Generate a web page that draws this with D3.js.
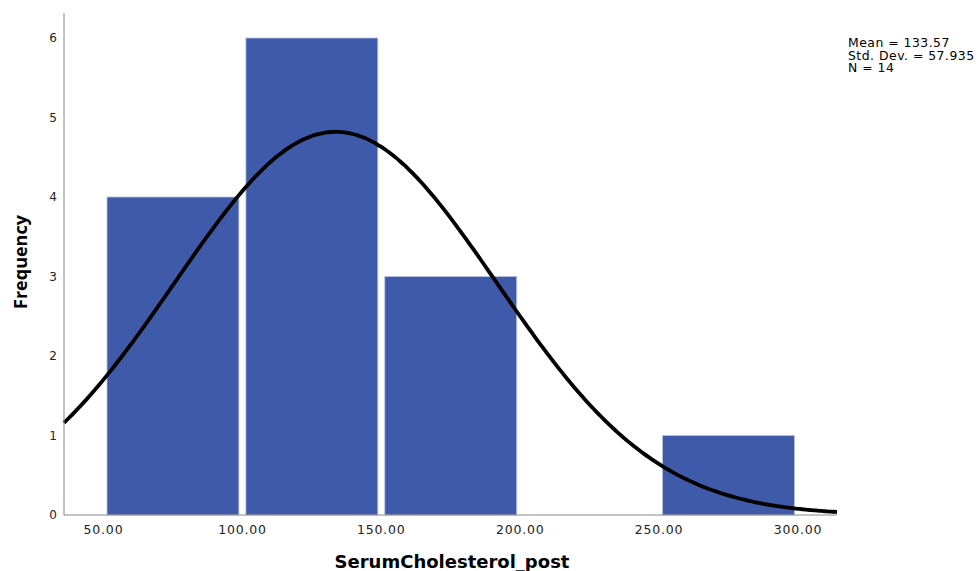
<!DOCTYPE html>
<html lang="en">
<head>
<meta charset="utf-8">
<title>SerumCholesterol_post histogram</title>
<script src="https://cdn.jsdelivr.net/npm/d3@7"></script>
<style>
body { margin: 0; background: #fff; }
</style>
</head>
<body>
<script>
// histogram bins (lower, upper) and counts
var binLow = [50, 100, 150, 250];
var binHigh = [100, 150, 200, 300];
var counts = [4, 6, 3, 1];
var xTicks = [50, 100, 150, 200, 250, 300];
var yTicks = [0, 1, 2, 3, 4, 5, 6];
var stats = ["Mean = 133.57", "Std. Dev. = 57.935", "N = 14"];
var mean = 133.57, sd = 57.935, n = 14, binWidth = 50;

var W = 980, H = 571;
var axisLeft = 64, axisRight = 837, base = 515, axisTop = 13;

var svg = d3.select("body").append("svg")
  .attr("width", W).attr("height", H);

var x = d3.scaleLinear().domain([50, 300]).range([103.5, 798]);
var y = d3.scaleLinear().domain([0, 6]).range([base, 38]);

var bars = binLow.map(function(d, i) { return {lo: d, hi: binHigh[i], c: counts[i]}; });

svg.append("g").selectAll("rect")
  .data(bars)
  .enter().append("rect")
  .attr("x", d => x(d.lo) + 3.5)
  .attr("width", d => x(d.hi) - x(d.lo) - 7)
  .attr("y", d => y(d.c))
  .attr("height", d => y(0) - y(d.c))
  .style("fill", "#3f5aa8")
  .style("stroke", "#b7c2e3")
  .style("stroke-width", 0.8);

// fitted normal curve from the stated mean / sd / N
var xmin = x.invert(axisLeft), xmax = x.invert(axisRight);
var pts = d3.range(0, 201).map(function(i) {
  var v = xmin + (xmax - xmin) * i / 200;
  var z = (v - mean) / sd;
  return [v, n * binWidth / (sd * Math.sqrt(2 * Math.PI)) * Math.exp(-0.5 * z * z)];
});
var line = d3.line().x(d => x(d[0])).y(d => y(d[1])).curve(d3.curveBasis);
svg.append("path")
  .attr("d", line(pts))
  .style("fill", "none")
  .style("stroke", "#000")
  .style("stroke-width", 3.8);

// axes
svg.append("line")
  .attr("x1", axisLeft).attr("x2", axisLeft)
  .attr("y1", axisTop).attr("y2", base)
  .style("stroke", "#888").style("stroke-width", 1);
svg.append("line")
  .attr("x1", axisLeft).attr("x2", axisRight)
  .attr("y1", base).attr("y2", base)
  .style("stroke", "#888").style("stroke-width", 1);

svg.append("g").selectAll("text")
  .data(yTicks)
  .enter().append("text")
  .attr("x", 57)
  .attr("y", d => y(d))
  .attr("dy", "0.35em")
  .attr("text-anchor", "end")
  .style("font-family", "DejaVu Sans")
  .style("font-size", "12px")
  .style("fill", "#222")
  .text(d => d);

svg.append("g").selectAll("text")
  .data(xTicks)
  .enter().append("text")
  .attr("x", d => x(d))
  .attr("y", 534)
  .attr("text-anchor", "middle")
  .style("font-family", "DejaVu Sans")
  .style("font-size", "12.5px")
  .style("letter-spacing", "0.8px")
  .style("fill", "#222")
  .text(d => d3.format(".2f")(d));

svg.append("text")
  .attr("x", 452).attr("y", 568)
  .attr("text-anchor", "middle")
  .style("font-family", "DejaVu Sans")
  .style("font-weight", "bold")
  .style("font-size", "18px")
  .text("SerumCholesterol_post");

svg.append("text")
  .attr("transform", "translate(27,262) rotate(-90)")
  .attr("text-anchor", "middle")
  .style("font-family", "Open Sans")
  .style("font-weight", "bold")
  .style("font-size", "18px")
  .text("Frequency");

svg.append("g").selectAll("text")
  .data(stats)
  .enter().append("text")
  .attr("x", 848)
  .attr("y", (d, i) => 47 + i * 12.5)
  .style("font-family", "DejaVu Sans")
  .style("font-size", "12.4px")
  .style("letter-spacing", "0.5px")
  .style("fill", "#000")
  .text(d => d);
</script>
</body>
</html>
